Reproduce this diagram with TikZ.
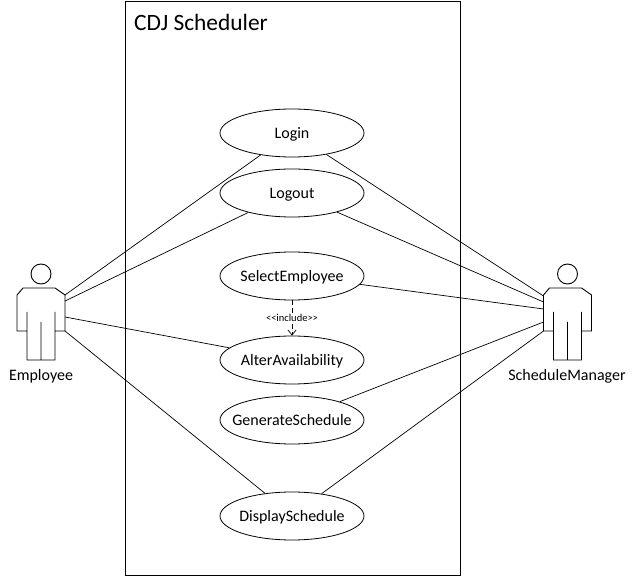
\documentclass[tikz,border=0pt]{standalone}
\usepackage{fontspec}
\setmainfont{Carlito}
\usetikzlibrary{shapes.geometric,arrows.meta}
\tikzset{
  uc/.style={draw,ellipse,minimum width=144pt,minimum height=48pt,inner sep=0pt,text width=0pt,align=center,text height=10.5pt,text depth=0pt,line width=0.8pt,font=\fontsize{16}{18}\selectfont},
  link/.style={draw,line width=0.7pt},
  actorline/.style={draw,line width=0.9pt,line join=miter},
  actorname/.style={font=\fontsize{16}{18}\selectfont,inner sep=0pt,text height=10.5pt,text depth=0pt},
  incl/.style={draw,line width=0.7pt,dashed,dash pattern=on 5pt off 3pt,-{Straight Barb[length=5pt,width=8pt]}},
  incllabel/.style={font=\fontsize{10.5}{12}\selectfont,fill=white,inner sep=1pt},
  frame/.style={draw,line width=0.8pt},
  actor/.pic={
    \draw[actorline] (0,-14) circle[radius=10pt];
    \draw[actorline] (-14,0) -- (14,0) -- (24,7) -- (24,43) -- (14,43) -- (14,24)
      (14,43) -- (14,72) -- (-14,72) -- (-14,24)
      (-14,43) -- (-24,43) -- (-24,7) -- (-18,0) -- (-14,0)
      (0,34) -- (0,72);
  }
}
\newcommand{\uclabel}[1]{\makebox[0pt]{#1}}
\begin{document}
\begin{tikzpicture}[x=1pt,y=-1pt]
\useasboundingbox (0,0) rectangle (635,577);
\fill[white] (0,0) rectangle (635,577);
\node[frame,minimum width=335pt,minimum height=574pt,inner sep=0pt,anchor=north west] (sys) at (125,1) {};
\node[font=\fontsize{23.4}{26}\selectfont,anchor=west,inner sep=0pt] (title) at (134,22) {CDJ Scheduler};

\node[uc] (login) at (292,133) {\uclabel{Login}};
\node[uc] (logout) at (292,193) {\uclabel{Logout}};
\node[uc] (select) at (292,276) {\uclabel{SelectEmployee}};
\node[uc] (alter) at (292,360) {\uclabel{AlterAvailability}};
\node[uc] (generate) at (292,420) {\uclabel{GenerateSchedule}};
\node[uc] (display) at (292,516) {\uclabel{DisplaySchedule}};

\pic at (41,288) {actor};
\pic at (567.5,288) {actor};
\node[actorname] (employee) at (41,375) {Employee};
\node[actorname] (manager) at (567,375) {ScheduleManager};

\coordinate (e1) at (65,295);
\coordinate (e2) at (65,301);
\coordinate (e3) at (65,317);
\coordinate (e4) at (65,331);
\coordinate (m1) at (543.5,296);
\coordinate (m2) at (543.5,302);
\coordinate (m3) at (543.5,309);
\coordinate (m4) at (543.5,322);
\coordinate (m5) at (543.5,331);

\draw[link] (e1) -- (login.215);
\draw[link] (e2) -- (logout.204.5);
\draw[link] (e3) -- (alter.169);
\draw[link] (e4) -- (display.140.6);
\draw[link] (m1) -- (login.-32);
\draw[link] (m2) -- (logout.-23);
\draw[link] (m3) -- (select.-7);
\draw[link] (m4) -- (generate.21);
\draw[link] (m5) -- (display.37);

\draw[incl] (select.south) -- (alter.north) node[midway,incllabel] (inc) {<{}<include>{}>};
\end{tikzpicture}
\end{document}
